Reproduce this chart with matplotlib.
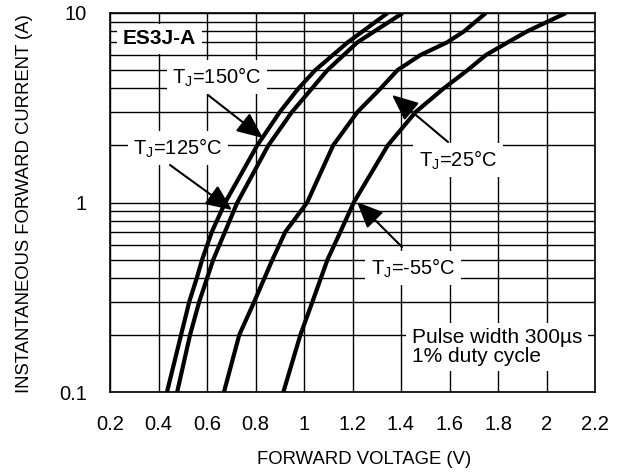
import matplotlib
matplotlib.use("Agg")
import matplotlib.pyplot as plt
from matplotlib.ticker import FixedLocator, NullFormatter

plt.rcParams['font.family'] = ['Liberation Sans', 'DejaVu Sans']
plt.rcParams['mathtext.fontset'] = 'custom'
plt.rcParams['mathtext.rm'] = 'Liberation Sans'

# Data (forward voltage V, current A)
v_150 = [0.435, 0.493, 0.527, 0.558, 0.58, 0.62, 0.675, 0.807, 0.90, 0.977, 1.047, 1.18, 1.345]
i_150 = [0.1, 0.2, 0.3, 0.4, 0.5, 0.7, 1.0, 2.0, 3.0, 4.0, 5.0, 7.0, 10.0]

v_125 = [0.477, 0.53, 0.568, 0.626, 0.725, 0.853, 0.95, 1.097, 1.22, 1.407]
i_125 = [0.1, 0.2, 0.3, 0.5, 1.0, 2.0, 3.0, 5.0, 7.0, 10.0]

v_25 = [0.67, 0.733, 0.795, 0.87, 0.923, 1.013, 1.12, 1.22, 1.316, 1.386, 1.48, 1.59, 1.66, 1.75]
i_25 = [0.1, 0.2, 0.3, 0.5, 0.7, 1.0, 2.0, 3.0, 4.0, 5.0, 6.0, 7.0, 8.0, 10.0]

v_m55 = [0.915, 0.985, 1.035, 1.097, 1.15, 1.205, 1.345, 1.46, 1.576, 1.675, 1.75, 1.84, 1.92, 2.08]
i_m55 = [0.1, 0.2, 0.3, 0.5, 0.7, 1.0, 2.0, 3.0, 4.0, 5.0, 6.0, 7.0, 8.0, 10.0]

x_ticks = [0.2, 0.4, 0.6, 0.8, 1.0, 1.2, 1.4, 1.6, 1.8, 2.0, 2.2]
x_tick_labels = ['0.2', '0.4', '0.6', '0.8', '1', '1.2', '1.4', '1.6', '1.8', '2', '2.2']
y_ticks = [0.1, 1, 10]
y_tick_labels = ['0.1', '1', '10']

fig = plt.figure(figsize=(6.22, 4.74), dpi=100)
ax = fig.add_axes([110/622, 1-392/474, 485/622, 379/474])

for v, i in [(v_150, i_150), (v_125, i_125), (v_25, i_25), (v_m55, i_m55)]:
    ax.plot(v, i, color='black', lw=3.0, solid_capstyle='butt', solid_joinstyle='round', zorder=3)

ax.set_yscale('log')
ax.set_xlim(0.2, 2.2)
ax.set_ylim(0.1, 10)
ax.set_xticks(x_ticks)
ax.set_xticklabels(x_tick_labels)
ax.set_yticks(y_ticks)
ax.set_yticklabels(y_tick_labels)
ax.yaxis.set_minor_locator(FixedLocator([k * 10**e for e in (-1, 0) for k in range(2, 10)]))
ax.yaxis.set_minor_formatter(NullFormatter())
ax.tick_params(which='both', length=0, labelsize=14.5, pad=16.5)
ax.grid(True, which='both', color='black', lw=1.0, zorder=1)
for s in ax.spines.values():
    s.set_color('black')
    s.set_linewidth(1.2)
    s.set_zorder(4)

fig.text(364/622, 1-459/474, 'FORWARD VOLTAGE (V)', fontsize=13.3, ha='center', va='center')
fig.text(24.5/622, 1-203.5/474, 'INSTANTANEOUS FORWARD CURRENT (A)', fontsize=13.3,
         ha='center', va='center', rotation=90)

box = dict(facecolor='white', edgecolor='none', pad=4)

def px(xp, yp):
    return ((xp - 110) / 485, (392 - yp) / 379)

ax.text(*px(123, 39), 'ES3J-A', transform=ax.transAxes, fontsize=15, fontweight='bold',
        ha='left', va='center', bbox=box, zorder=5)

labels = [
    ('T$_\\mathregular{J}$=150°C', (217, 77), (208, 95), (263, 138)),
    ('T$_\\mathregular{J}$=125°C', (178, 148), (170, 165), (232, 210)),
    ('T$_\\mathregular{J}$=25°C', (458, 160), (448, 142), (392, 95)),
    ('T$_\\mathregular{J}$=-55°C', (413, 268), (402, 247), (357, 202)),
]
for txt, tpos, tail, tip in labels:
    ax.text(*px(*tpos), txt, transform=ax.transAxes, fontsize=14.5, ha='center', va='center',
            bbox=box, zorder=5)
    ax.annotate('', xy=px(*tip), xytext=px(*tail), xycoords='axes fraction',
                textcoords='axes fraction',
                arrowprops=dict(arrowstyle='-|>,head_length=0.8,head_width=0.35',
                                mutation_scale=20, color='black', lw=1.5,
                                shrinkA=0, shrinkB=0), zorder=6)

ax.text(*px(412, 347), 'Pulse width 300µs\n1% duty cycle', transform=ax.transAxes,
        fontsize=15, ha='left', va='center', linespacing=0.95, bbox=box, zorder=5)

fig.savefig('out.png', dpi=100)
